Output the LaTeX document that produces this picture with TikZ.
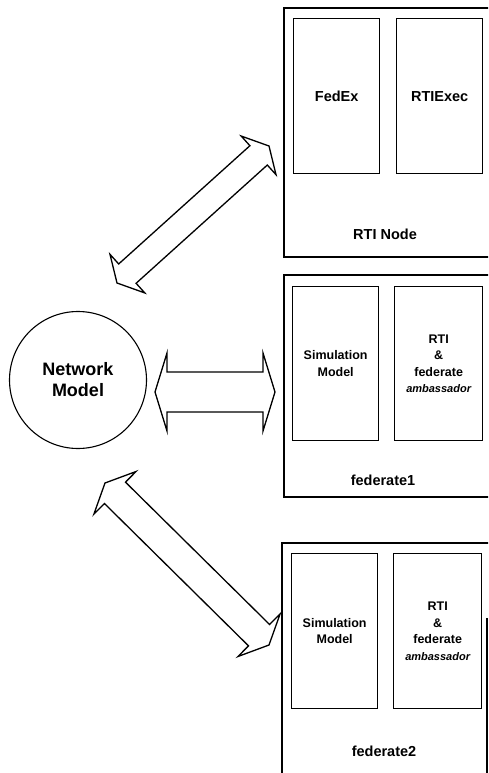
\documentclass[tikz,border=0pt]{standalone}
\usepackage{fontspec}
\setmainfont{Liberation Sans}
\usetikzlibrary{calc}

% hollow double-headed arrow between two tips:
% #1,#2 tips, #3 half shaft width, #4 half head width, #5 head length
\newcommand\hollowdoublearrow[5]{%
  \coordinate (ha) at ($(#1)!#5!(#2)$);
  \coordinate (hb) at ($(#2)!#5!(#1)$);
  \draw[fatarrow] (#1) -- ($(ha)!#4!90:(#2)$) -- ($(ha)!#3!90:(#2)$)
    -- ($(hb)!#3!-90:(#1)$) -- ($(hb)!#4!-90:(#1)$) -- (#2)
    -- ($(hb)!#4!90:(#1)$) -- ($(hb)!#3!90:(#1)$)
    -- ($(ha)!#3!-90:(#2)$) -- ($(ha)!#4!-90:(#2)$) -- cycle;}

\tikzset{
  outerbox/.style={draw, line width=1.3pt, inner sep=0pt},
  innerbox/.style={draw, line width=1.3pt, inner sep=0pt},
  fatarrow/.style={draw, line width=1.3pt, line join=miter, fill=white},
  lbl/.style={font=\fontsize{14.5}{16}\selectfont\bfseries, inner sep=0pt},
  small/.style={font=\fontsize{12.5}{16.5}\selectfont\bfseries, align=center, inner sep=0pt},
}

\begin{document}
\begin{tikzpicture}[x=1pt, y=-1pt]
\useasboundingbox (0,0) rectangle (488,773);
\clip (0,0) rectangle (488,773);

% RTI node
\draw[outerbox] (284,8) rectangle (500,257);
\node[innerbox, minimum width=86pt, minimum height=155pt, anchor=north west] (fedex) at (293,18) {};
\node[lbl] at (fedex.center) {FedEx};
\node[innerbox, minimum width=86pt, minimum height=155pt, anchor=north west] (rtiexec) at (396,18) {};
\node[lbl] at (rtiexec.center) {RTIExec};
\node[lbl] (rtinode) at (385,234) {RTI Node};

% federate 1
\draw[outerbox] (284,275) rectangle (500,497);
\node[innerbox, minimum width=86pt, minimum height=154pt, anchor=north west] (sim1) at (292,286) {};
\node[small] at (sim1.center) {Simulation\\Model};
\node[innerbox, minimum width=88pt, minimum height=154pt, anchor=north west] (amb1) at (394,286) {};
\node[small] at (amb1.center) {RTI\\\&\\federate\\{\fontsize{11}{13}\selectfont\itshape ambassador}};
\node[lbl] (fed1) at (383,480) {federate1};

% federate 2
\draw[outerbox] (282,543) rectangle (500,790);
\draw[line width=1.3pt] (487,618) -- (487,790);
\node[innerbox, minimum width=86pt, minimum height=155pt, anchor=north west] (sim2) at (291,553) {};
\node[small] at (sim2.center) {Simulation\\Model};
\node[innerbox, minimum width=88pt, minimum height=155pt, anchor=north west] (amb2) at (393,553) {};
\node[small] at (amb2.center) {RTI\\\&\\federate\\{\fontsize{11}{13}\selectfont\itshape ambassador}};
\node[lbl] (fed2) at (384,751) {federate2};

% network model
\node[draw, circle, line width=1.1pt, minimum size=137pt, inner sep=0pt] (net) at (78,380) {};
\node[font=\fontsize{18}{21}\selectfont\bfseries, align=center] at (net.center) {Network\\Model};

% arrow end points
\coordinate (t1a) at (117,283);
\coordinate (t1b) at (269,146);
\coordinate (t2a) at (155,392);
\coordinate (t2b) at (275,392);
\coordinate (t3a) at (105,483);
\coordinate (t3b) at (269,645);

\hollowdoublearrow{t1a}{t1b}{13pt}{26pt}{14pt}
\hollowdoublearrow{t2a}{t2b}{20pt}{39pt}{12pt}
\hollowdoublearrow{t3a}{t3b}{15pt}{30pt}{14pt}
\end{tikzpicture}
\end{document}
